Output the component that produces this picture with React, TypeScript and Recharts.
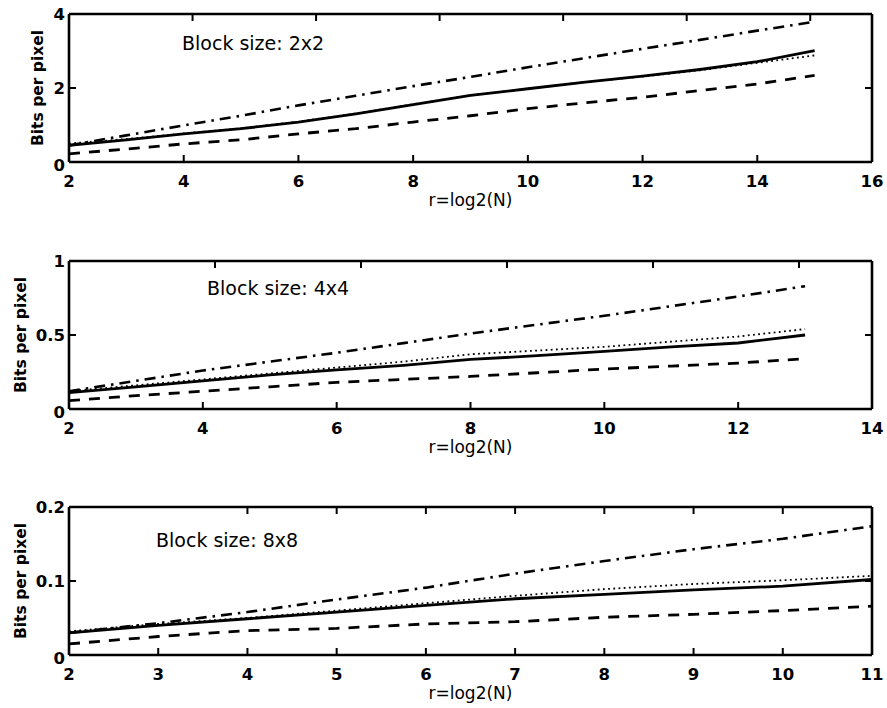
import React from 'react';
import { LineChart, Line, XAxis, YAxis, Label } from 'recharts';

// Panel 1: Block size 2x2
const r1 = [2, 3, 4, 5, 6, 7, 8, 9, 10, 11, 12, 13, 14, 15];
const solid1 = [0.45, 0.6, 0.76, 0.9, 1.08, 1.3, 1.55, 1.8, 1.98, 2.16, 2.32, 2.5, 2.71, 3.01];
const dotted1 = [0.5, 0.62, 0.77, 0.91, 1.09, 1.31, 1.56, 1.8, 1.98, 2.16, 2.31, 2.48, 2.68, 2.88];
const dashed1 = [0.22, 0.35, 0.49, 0.6, 0.76, 0.9, 1.08, 1.25, 1.44, 1.6, 1.75, 1.93, 2.11, 2.34];
const dashDot1 = [0.45, 0.72, 0.99, 1.25, 1.53, 1.79, 2.05, 2.3, 2.56, 2.81, 3.06, 3.3, 3.55, 3.79];
const xTicks1 = [2, 4, 6, 8, 10, 12, 14, 16];
const yTicks1 = [0, 2, 4];

// Panel 2: Block size 4x4
const r2 = [2, 3, 4, 5, 6, 7, 8, 9, 10, 11, 12, 13];
const solid2 = [0.11, 0.15, 0.19, 0.23, 0.265, 0.295, 0.335, 0.36, 0.39, 0.42, 0.446, 0.5];
const dotted2 = [0.12, 0.16, 0.2, 0.24, 0.28, 0.32, 0.37, 0.395, 0.42, 0.455, 0.49, 0.54];
const dashed2 = [0.056, 0.09, 0.12, 0.15, 0.18, 0.2, 0.22, 0.245, 0.27, 0.29, 0.31, 0.34];
const dashDot2 = [0.12, 0.19, 0.26, 0.32, 0.38, 0.445, 0.51, 0.57, 0.63, 0.695, 0.76, 0.83];
const xTicks2 = [2, 4, 6, 8, 10, 12, 14];
const yTicks2 = [0, 0.5, 1];

// Panel 3: Block size 8x8
const r3 = [2, 3, 4, 5, 6, 7, 8, 9, 10, 11];
const solid3 = [0.03, 0.04, 0.049, 0.058, 0.067, 0.076, 0.082, 0.088, 0.093, 0.102];
const dotted3 = [0.032, 0.042, 0.05, 0.06, 0.07, 0.08, 0.089, 0.096, 0.101, 0.107];
const dashed3 = [0.015, 0.025, 0.033, 0.036, 0.042, 0.045, 0.051, 0.055, 0.06, 0.066];
const dashDot3 = [0.03, 0.043, 0.058, 0.075, 0.091, 0.11, 0.127, 0.143, 0.157, 0.174];
const xTicks3 = [2, 3, 4, 5, 6, 7, 8, 9, 10, 11];
const yTicks3 = [0, 0.1, 0.2];

const titles = ['Block size: 2x2', 'Block size: 4x4', 'Block size: 8x8'];
const xLabel = 'r=log2(N)';
const yLabel = 'Bits per pixel';

const FONT = '"DejaVu Sans", "Liberation Sans", Arial, sans-serif';
const TS = 6; // tick size
const TM = 6; // tick margin
const IN = 7; // inward tick length

function buildRows(r: number[], s: number[], d: number[], da: number[], dd: number[]) {
  return r.map((x, i) => ({ r: x, solid: s[i], dotted: d[i], dashed: da[i], dashDot: dd[i] }));
}

const BottomTick = (p: any) => {
  const axisY = p.y - TS - TM;
  return (
    <g>
      <line x1={p.x} x2={p.x} y1={axisY} y2={axisY - IN} stroke="#000" strokeWidth={2} />
      <text x={p.x} y={axisY + 13} dy="0.71em" textAnchor="middle" fontSize={16.5} fontWeight={700} fontFamily={FONT} fill="#000">
        {p.payload.value}
      </text>
    </g>
  );
};

const TopTick = (p: any) => {
  const axisY = p.y + TS + TM;
  return <line x1={p.x} x2={p.x} y1={axisY} y2={axisY + IN} stroke="#000" strokeWidth={2} />;
};

const LeftTick = (p: any) => {
  const axisX = p.x + TS + TM;
  const first = p.index === 0;
  return (
    <g>
      <line x1={axisX} x2={axisX + IN} y1={p.y} y2={p.y} stroke="#000" strokeWidth={2} />
      <text x={axisX - 4} y={p.y + (first ? 3 : 0)} dy="0.36em" textAnchor="end" fontSize={16.5} fontWeight={700} fontFamily={FONT} fill="#000">
        {p.payload.value}
      </text>
    </g>
  );
};

const RightTick = (p: any) => {
  const axisX = p.x - TS - TM;
  return <line x1={axisX} x2={axisX - IN} y1={p.y} y2={p.y} stroke="#000" strokeWidth={2} />;
};

type PanelProps = {
  top: number;
  data: any[];
  xTicks: number[];
  yTicks: number[];
  title: string;
  titleX: number;
  titleY: number;
  yLabelX: number;
};

const CH = 215;
const AXIS = { stroke: '#000', strokeWidth: 2.6 };

function Panel({ top, data, xTicks, yTicks, title, titleX, titleY, yLabelX }: PanelProps) {
  const xDomain = [xTicks[0], xTicks[xTicks.length - 1]];
  const yDomain = [yTicks[0], yTicks[yTicks.length - 1]];
  return (
    <div style={{ position: 'absolute', left: 0, top, width: 887, height: CH }}>
      <LineChart width={887} height={CH} data={data} margin={{ top: 13, right: 14, bottom: 3, left: 0 }}>
        <XAxis
          xAxisId="b"
          dataKey="r"
          type="number"
          domain={xDomain}
          ticks={xTicks}
          allowDataOverflow
          height={50}
          axisLine={AXIS}
          tickLine={false}
          tickSize={TS}
          tickMargin={TM}
          tick={BottomTick}
          interval={0}
        >
          <Label
            content={(p: any) => {
              const vb = p.viewBox;
              return (
                <text
                  x={vb.x + vb.width / 2}
                  y={vb.y + 39}
                  textAnchor="middle"
                  dominantBaseline="middle"
                  fontSize={17}
                  fontFamily={FONT}
                  fill="#000"
                >
                  {xLabel}
                </text>
              );
            }}
          />
        </XAxis>
        <XAxis
          xAxisId="t"
          orientation="top"
          type="number"
          domain={xDomain}
          ticks={xTicks}
          allowDataOverflow
          height={1}
          axisLine={AXIS}
          tickLine={false}
          tickSize={TS}
          tickMargin={TM}
          tick={TopTick}
          interval={0}
        />
        <YAxis
          yAxisId="l"
          type="number"
          domain={yDomain}
          ticks={yTicks}
          allowDataOverflow
          width={69}
          axisLine={AXIS}
          tickLine={false}
          tickSize={TS}
          tickMargin={TM}
          tick={LeftTick}
          interval={0}
        >
          <Label
            content={(p: any) => {
              const vb = p.viewBox;
              const cy = vb.y + vb.height / 2;
              return (
                <text
                  x={yLabelX}
                  y={cy}
                  transform={`rotate(-90 ${yLabelX} ${cy})`}
                  textAnchor="middle"
                  dominantBaseline="middle"
                  fontSize={15.5}
                  fontWeight={700}
                  fontFamily={FONT}
                  fill="#000"
                >
                  {yLabel}
                </text>
              );
            }}
          />
        </YAxis>
        <YAxis
          yAxisId="rt"
          orientation="right"
          type="number"
          domain={yDomain}
          ticks={yTicks}
          allowDataOverflow
          width={1}
          axisLine={AXIS}
          tickLine={false}
          tickSize={TS}
          tickMargin={TM}
          tick={RightTick}
          interval={0}
        />
        <Line xAxisId="b" yAxisId="l" type="linear" dataKey="dashDot" stroke="#000" strokeWidth={2.6} strokeDasharray="11 6 2.5 6" dot={false} isAnimationActive={false} />
        <Line xAxisId="b" yAxisId="l" type="linear" dataKey="dashed" stroke="#000" strokeWidth={2.8} strokeDasharray="11 9" dot={false} isAnimationActive={false} />
        <Line xAxisId="b" yAxisId="l" type="linear" dataKey="dotted" stroke="#000" strokeWidth={1.8} strokeDasharray="1.8 3.4" dot={false} isAnimationActive={false} />
        <Line xAxisId="b" yAxisId="l" type="linear" dataKey="solid" stroke="#000" strokeWidth={2.8} dot={false} isAnimationActive={false} />
      </LineChart>
      <div
        style={{
          position: 'absolute',
          left: titleX,
          top: titleY,
          fontFamily: FONT,
          fontSize: 19,
          lineHeight: '20px',
          color: '#000',
          whiteSpace: 'nowrap',
        }}
      >
        {title}
      </div>
    </div>
  );
}

export default function App() {
  const d1 = buildRows(r1, solid1, dotted1, dashed1, dashDot1);
  const d2 = buildRows(r2, solid2, dotted2, dashed2, dashDot2);
  const d3 = buildRows(r3, solid3, dotted3, dashed3, dashDot3);
  return (
    <div style={{ position: 'relative', width: 887, height: 708, background: '#fff', overflow: 'hidden' }}>
      <style>{'body{margin:0;background:#fff;}'}</style>
      <Panel top={0} data={d1} xTicks={xTicks1} yTicks={yTicks1} title={titles[0]} titleX={182} titleY={33} yLabelX={38} />
      <Panel top={247} data={d2} xTicks={xTicks2} yTicks={yTicks2} title={titles[1]} titleX={207} titleY={31} yLabelX={21} />
      <Panel top={493} data={d3} xTicks={xTicks3} yTicks={yTicks3} title={titles[2]} titleX={156} titleY={37} yLabelX={21} />
    </div>
  );
}
